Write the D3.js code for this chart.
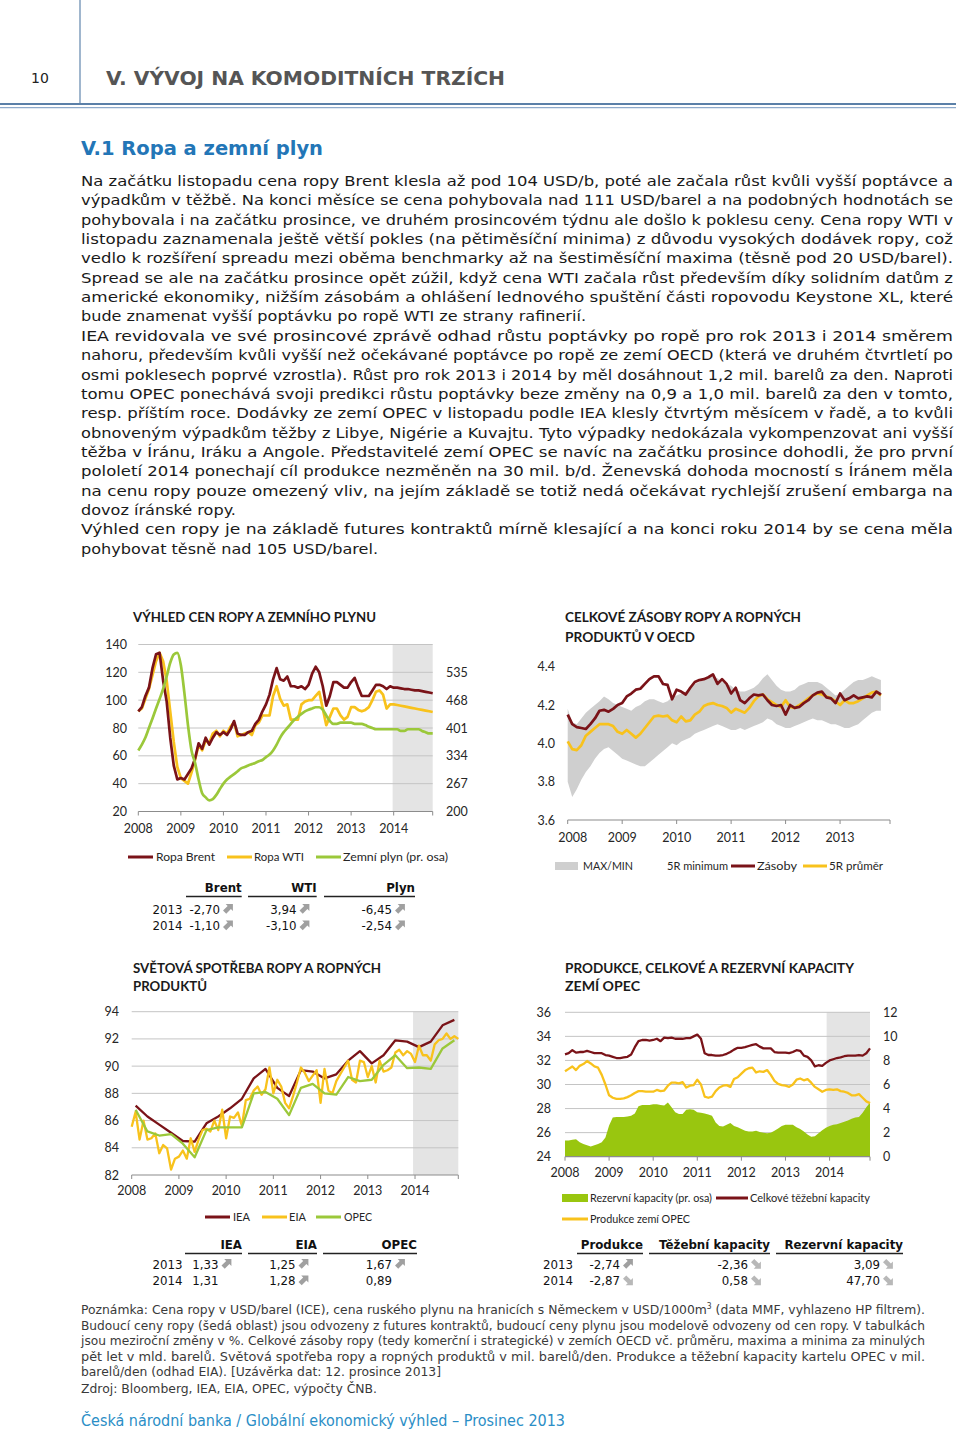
<!DOCTYPE html>
<html><head><meta charset="utf-8">
<script src="https://cdn.jsdelivr.net/npm/d3@7"></script>
<style>html,body{margin:0;padding:0;background:#fff}svg{display:block}</style>
</head><body>
<svg id="page" width="960" height="1436"></svg>
<script>
// ---------------- DATA ----------------
const years = ["2008","2009","2010","2011","2012","2013","2014"];
const years2 = ["2008","2009","2010","2011","2012","2013"];

// Chart 1: oil & gas prices (monthly 2008-01 .. 2014-12)
const brent = [92,95,103,109,123,133,134,114,99,73,53,43,
 44,43,47,51,58,69,65,73,68,73,77,75,
 77,75,79,85,76,75,75,77,78,83,86,92,
 97,104,115,123,115,114,117,110,110,109,110,108,
 111,119,124,120,110,96,103,113,113,111,109,109,
 113,116,109,103,103,103,107,111,111,110,108,110,
 109,109,108.5,108,108,107.5,107,107,106.5,106,105.5,105];
const wti = [92,94,101,108,118,128,134,128,114,92,70,52,
 44,42,40,48,57,68,64,71,69,76,78,74,
 78,76,81,84,74,75,76,77,75,82,84,89,
 89,89,103,110,101,96,97,86,86,86,97,99,
 100,100,103,106,94,82,88,94,94,89,86,88,
 95,95,93,92,93,95,100,106,107,104,94,97,
 97,96.5,96,95.5,95,94.5,94,93.5,93,92.5,92,91.5];
const gas = [347,361,378,401,424,448,471,495,525,558,578,582,
 552,485,408,347,317,277,244,234,227,230,240,254,
 267,277,284,290,297,304,307,311,314,317,321,324,
 331,337,347,361,378,391,401,411,421,428,435,441,
 445,448,451,451,445,431,418,411,411,414,414,414,
 414,411,411,411,408,404,401,398,398,398,398,398,
 398,398,394,394,398,398,398,398,394,391,388,388];
const ticksL1 = [20,40,60,80,100,120,140];
const ticksR1 = [200,267,334,401,468,535];

// Chart 2: OECD stocks (monthly 2008-01 .. 2013-10)
const zasoby = [4.15,4.10,4.085,4.08,4.075,4.10,4.13,4.17,4.175,4.165,4.18,4.20,
 4.21,4.245,4.26,4.28,4.285,4.31,4.335,4.35,4.35,4.31,4.305,4.23,
 4.28,4.27,4.255,4.29,4.32,4.33,4.335,4.345,4.36,4.31,4.335,4.31,
 4.26,4.29,4.225,4.21,4.235,4.255,4.25,4.255,4.225,4.20,4.195,4.20,
 4.15,4.20,4.185,4.19,4.21,4.225,4.25,4.265,4.27,4.24,4.235,4.21,
 4.26,4.225,4.235,4.25,4.235,4.24,4.245,4.24,4.27,4.255];
const prumer5R = [4.01,3.97,3.965,3.99,4.04,4.06,4.08,4.10,4.10,4.10,4.09,4.06,
 4.05,4.07,4.05,4.03,4.05,4.08,4.11,4.14,4.145,4.14,4.145,4.12,
 4.11,4.14,4.115,4.12,4.15,4.165,4.195,4.205,4.21,4.20,4.195,4.185,
 4.16,4.18,4.17,4.16,4.185,4.22,4.245,4.255,4.23,4.215,4.20,4.19,
 4.225,4.19,4.185,4.20,4.215,4.235,4.25,4.26,4.255,4.245,4.235,4.22,
 4.20,4.225,4.21,4.21,4.22,4.235,4.25,4.265,4.27,4.25];
const max5R = [4.18,4.11,4.10,4.13,4.16,4.18,4.20,4.22,4.245,4.23,4.21,4.20,
 4.19,4.18,4.17,4.19,4.20,4.22,4.23,4.23,4.22,4.21,4.22,4.24,
 4.25,4.26,4.27,4.29,4.31,4.32,4.33,4.34,4.35,4.34,4.32,4.31,
 4.30,4.28,4.27,4.27,4.28,4.29,4.31,4.34,4.36,4.33,4.30,4.28,
 4.27,4.27,4.28,4.30,4.31,4.32,4.32,4.32,4.31,4.29,4.27,4.25,
 4.26,4.28,4.30,4.32,4.33,4.33,4.34,4.35,4.34,4.33];
const min5R = [3.80,3.72,3.76,3.81,3.85,3.88,3.92,3.95,3.97,3.98,3.96,3.94,
 3.92,3.91,3.90,3.89,3.88,3.88,3.90,3.92,3.94,3.96,3.98,4.00,
 3.99,4.01,4.02,4.03,4.05,4.06,4.07,4.08,4.09,4.10,4.09,4.08,
 4.07,4.07,4.08,4.07,4.08,4.09,4.10,4.11,4.13,4.12,4.10,4.09,
 4.08,4.08,4.09,4.10,4.11,4.12,4.13,4.12,4.12,4.11,4.10,4.10,
 4.09,4.08,4.08,4.09,4.10,4.12,4.14,4.16,4.17,4.17];
const ticks2 = [3.6,3.8,4.0,4.2,4.4];

// Chart 3: world oil demand (IEA, OPEC quarterly; EIA monthly)
const iea = [87.1,86.3,85.7,85.1,84.5,84.45,85.8,86.3,86.9,87.6,89.1,89.8,88.4,87.8,89.7,89.6,89.1,89.4,90.4,91.1,90.2,90.8,91.9,91.8,91.4,91.8,93.0,93.4];
const opec = [86.8,85.2,84.9,85.0,84.3,83.3,85.3,85.5,85.5,85.5,88.0,88.1,87.6,86.4,88.4,88.7,88.0,87.9,89.2,88.9,89.0,90.1,90.8,89.85,89.9,89.8,91.3,91.9];
const eia = [85.55,86.65,84.6,86.0,84.6,84.7,85.05,83.6,84.2,83.95,82.4,83.2,
 83.35,83.8,83.2,84.7,83.7,84.6,85.3,85.4,85.2,86.0,85.3,86.8,
 84.7,86.3,86.2,86.6,85.6,87.5,87.6,88.2,88.5,87.9,88.3,89.9,
 88.0,89.0,88.5,87.3,86.9,87.8,88.8,89.9,89.5,88.9,89.3,89.7,
 87.3,89.8,88.2,88.0,88.9,89.4,89.9,90.4,89.0,88.8,90.4,90.3,
 89.2,90.0,88.8,90.4,89.6,89.7,89.9,91.0,91.2,90.8,91.1,90.9,
 90.3,91.5,90.8,90.8,90.4,91.6,91.9,92.0,92.4,92.0,92.2,92.0];
const ticks3 = [82,84,86,88,90,92,94];

// Chart 4: OPEC production & capacity (monthly)
const kapacity = [32.5,32.6,32.85,32.65,32.7,32.7,32.8,32.7,32.6,32.6,32.6,32.45,
 32.4,32.3,32.2,32.2,32.25,32.3,32.5,33.1,33.6,33.7,33.7,33.65,
 33.7,33.8,33.6,33.9,33.85,33.9,33.8,33.8,33.8,33.85,33.85,34.0,
 34.15,33.8,32.6,32.45,32.45,32.4,32.4,32.45,32.55,32.7,32.9,33.05,
 33.05,33.1,33.2,33.3,33.35,33.15,33.0,33.0,33.0,32.7,32.65,32.65,
 32.65,32.6,32.7,32.85,32.8,32.4,32.3,32.0,31.5,31.6,31.55,31.8,
 32.0,32.1,32.2,32.25,32.35,32.4,32.4,32.4,32.45,32.4,32.6,33.0];
const produkce = [31.1,31.3,31.5,31.2,31.55,31.7,31.95,31.75,31.5,31.4,30.8,30.0,
 29.1,28.9,28.8,28.8,28.85,28.95,29.1,29.3,29.45,29.45,29.4,29.4,
 29.4,29.55,29.45,29.5,29.9,30.15,30.15,30.1,30.2,29.75,29.9,29.95,
 30.4,30.0,29.0,28.9,29.0,29.45,29.75,29.9,29.95,29.8,30.45,30.6,
 30.9,31.2,31.35,31.4,31.0,31.1,31.05,31.2,30.8,30.3,30.05,29.95,
 29.9,29.8,30.0,30.4,30.5,30.35,30.45,30.15,29.8,29.6,29.4,29.55,
 29.6,29.55,29.6,29.45,29.4,29.3,29.1,29.1,29.2,28.9,28.6,28.45];
const rezerva = [1.35,1.35,1.4,1.45,1.2,1.05,0.95,0.85,0.95,1.05,1.2,1.6,
 2.6,3.25,3.3,3.3,3.3,3.35,3.4,3.6,4.2,4.3,4.3,4.3,
 4.35,4.35,4.3,4.25,4.5,4.1,3.7,3.55,3.55,3.9,3.95,3.9,
 3.7,3.65,3.6,3.5,3.4,2.85,2.55,2.5,2.65,2.8,2.55,2.45,
 2.3,2.15,2.1,2.1,2.15,2.05,2.0,1.95,2.0,2.15,2.35,2.55,
 2.65,2.65,2.65,2.45,2.3,2.1,1.85,1.65,1.7,1.95,2.2,2.4,
 2.55,2.65,2.7,2.8,2.9,3.0,3.15,3.25,3.3,3.65,4.1,4.5];
const ticksL4 = [24,26,28,30,32,34,36];
const ticksR4 = [0,2,4,6,8,10,12];

// Tables
const tab1Head = ["Brent","WTI","Plyn"];
const tab1Rows = [["2013","-2,70","3,94","-6,45"],["2014","-1,10","-3,10","-2,54"]];
const tab3Head = ["IEA","EIA","OPEC"];
const tab3Rows = [["2013","1,33","1,25","1,67"],["2014","1,31","1,28","0,89"]];
const tab4Head = ["Produkce","Těžební kapacity","Rezervní kapacity"];
const tab4Rows = [["2013","-2,74","-2,36","3,09"],["2014","-2,87","0,58","47,70"]];

// ---------------- DRAWING ----------------
const svg = d3.select("#page");
const F_BODY = "'DejaVu Sans', Verdana, sans-serif";
const F_CH = "Lato, 'Open Sans', sans-serif";
const F_NOTE = "'DejaVu Sans Condensed', 'DejaVu Sans', sans-serif";
const RED = "#7a1318", YEL = "#f8c21c", GRN = "#9bc83a", GRN4 = "#99c60f";

function T(g, x, y, s, o = {}) {
  const t = g.append("text").attr("x", x).attr("y", y).text(s)
    .attr("font-family", o.family || F_CH).attr("font-size", o.size || 12)
    .attr("fill", o.fill || "#262626");
  if (o.weight) t.attr("font-weight", o.weight);
  if (o.anchor) t.attr("text-anchor", o.anchor);
  if (o.len) t.attr("textLength", o.len).attr("lengthAdjust", "spacingAndGlyphs");
  return t;
}
function L(g, x1, y1, x2, y2, c, w) {
  return g.append("line").attr("x1", x1).attr("y1", y1).attr("x2", x2).attr("y2", y2)
    .attr("stroke", c).attr("stroke-width", w);
}

// Header
L(svg, 80, 0, 80, 103, "#6d8fb3", 1.3);
T(svg, 31, 83, "10", {family: F_BODY, size: 14, fill: "#222"});
T(svg, 106, 85, "V. VÝVOJ NA KOMODITNÍCH TRZÍCH", {family: F_BODY, size: 19, weight: "bold", fill: "#555", len: 399});
L(svg, 0, 104, 956, 104, "#5b80a8", 2);
L(svg, 0, 107.6, 956, 107.6, "#8eaacb", 1.3);

T(svg, 81, 155, "V.1 Ropa a zemní plyn", {family: F_BODY, size: 19, weight: "bold", fill: "#2376b7", len: 242});

const para = [
 ["Na začátku listopadu cena ropy Brent klesla až pod 104 USD/b, poté ale začala růst kvůli vyšší poptávce a", 872],
 ["výpadkům v těžbě. Na konci měsíce se cena pohybovala nad 111 USD/barel a na podobných hodnotách se", 872],
 ["pohybovala i na začátku prosince, ve druhém prosincovém týdnu ale došlo k poklesu ceny. Cena ropy WTI v", 872],
 ["listopadu zaznamenala ještě větší pokles (na pětiměsíční minima) z důvodu vysokých dodávek ropy, což", 872],
 ["vedlo k rozšíření spreadu mezi oběma benchmarky až na šestiměsíční maxima (těsně pod 20 USD/barel).", 872],
 ["Spread se ale na začátku prosince opět zúžil, když cena WTI začala růst především díky solidním datům z", 872],
 ["americké ekonomiky, nižším zásobám a ohlášení lednového spuštění části ropovodu Keystone XL, které", 872],
 ["bude znamenat vyšší poptávku po ropě WTI ze strany rafinerií.", 505],
 ["IEA revidovala ve své prosincové zprávě odhad růstu poptávky po ropě pro rok 2013 i 2014 směrem", 872],
 ["nahoru, především kvůli vyšší než očekávané poptávce po ropě ze zemí OECD (která ve druhém čtvrtletí po", 872],
 ["osmi poklesech poprvé vzrostla). Růst pro rok 2013 i 2014 by měl dosáhnout 1,2 mil. barelů za den. Naproti", 872],
 ["tomu OPEC ponechává svoji predikci růstu poptávky beze změny na 0,9 a 1,0 mil. barelů za den v tomto,", 872],
 ["resp. příštím roce. Dodávky ze zemí OPEC v listopadu podle IEA klesly čtvrtým měsícem v řadě, a to kvůli", 872],
 ["obnoveným výpadkům těžby z Libye, Nigérie a Kuvajtu. Tyto výpadky nedokázala vykompenzovat ani vyšší", 872],
 ["těžba v Íránu, Iráku a Angole. Představitelé zemí OPEC se navíc na začátku prosince dohodli, že pro první", 872],
 ["pololetí 2014 ponechají cíl produkce nezměněn na 30 mil. b/d. Ženevská dohoda mocností s Íránem měla", 872],
 ["na cenu ropy pouze omezený vliv, na jejím základě se totiž nedá očekávat rychlejší zrušení embarga na", 872],
 ["dovoz íránské ropy.", 155],
 ["Výhled cen ropy je na základě futures kontraktů mírně klesající a na konci roku 2014 by se cena měla", 872],
 ["pohybovat těsně nad 105 USD/barel.", 297]
];
para.forEach((p, i) => T(svg, 81, 186 + i * 19.35, p[0], {family: F_BODY, size: 14.6, fill: "#1a1a1a", len: p[1]}));

// generic helpers for charts
function yearAxis(g, x, yAxis, labels, yLab, tickEnd, firstShift) {
  labels.forEach((s, i) => {
    const xx = x(12 * i) + (i === 0 ? (firstShift || 0) : 0);
    T(g, xx, yLab, s, {anchor: "middle", size: 12.5});
  });
  labels.forEach((s, i) => L(g, x(12 * i), yAxis, x(12 * i), yAxis + 4, "#8c8c8c", 1));
  if (tickEnd) L(g, x.range()[1], yAxis, x.range()[1], yAxis + 4, "#8c8c8c", 1);
}
function legLine(g, x1, x2, y, c, label, lx, len) {
  L(g, x1, y, x2, y, c, 3);
  T(g, lx, y + 4, label, {size: 11.5, len: len});
}

// ---------- Chart 1 ----------
{
  const g = svg.append("g");
  T(g, 133, 622, "VÝHLED CEN ROPY A ZEMNÍHO PLYNU", {size: 14, weight: "bold", fill: "#1a1a1a", len: 243});
  const x = d3.scaleLinear().domain([0, 83]).range([138.3, 432.7]);
  const yL = d3.scaleLinear().domain([20, 140]).range([811.5, 644.5]);
  const yR = d3.scaleLinear().domain([200, 602]).range([811.5, 644.5]);
  g.append("rect").attr("x", x(71.7)).attr("y", yL(140)).attr("width", x(83) - x(71.7)).attr("height", yL(20) - yL(140)).attr("fill", "#e4e4e4");
  ticksL1.forEach(t => {
    if (t > 20) L(g, x(0), yL(t), x(83), yL(t), "#c4c4c4", 1);
    T(g, 127, yL(t) + 4.5, String(t), {anchor: "end", size: 12.5});
  });
  ticksR1.forEach(t => T(g, 446, yR(t) + 4.5, String(t), {size: 12.5}));
  L(g, x(0), yL(20), x(83), yL(20), "#8c8c8c", 1.2);
  yearAxis(g, x, yL(20), years, 833, true);
  const lineL = d3.line().x((d, i) => x(i)).y(d => yL(d)).curve(d3.curveLinear);
  const lineR = d3.line().x((d, i) => x(i)).y(d => yR(d)).curve(d3.curveMonotoneX);
  g.append("path").attr("d", lineL(wti)).attr("fill", "none").attr("stroke", YEL).attr("stroke-width", 2.7).attr("stroke-linejoin", "round");
  g.append("path").attr("d", lineL(brent)).attr("fill", "none").attr("stroke", RED).attr("stroke-width", 2.7).attr("stroke-linejoin", "round");
  g.append("path").attr("d", lineR(gas)).attr("fill", "none").attr("stroke", GRN).attr("stroke-width", 2.7).attr("stroke-linejoin", "round");
  legLine(g, 128, 153, 857, RED, "Ropa Brent", 156, 59);
  legLine(g, 227, 252, 857, YEL, "Ropa WTI", 254, 50);
  legLine(g, 316, 341, 857, GRN, "Zemní plyn (pr. osa)", 343, 105);
}

// ---------- Chart 2 ----------
{
  const g = svg.append("g");
  T(g, 565, 622, "CELKOVÉ ZÁSOBY ROPY A ROPNÝCH", {size: 14, weight: "bold", fill: "#1a1a1a", len: 236});
  T(g, 565, 642, "PRODUKTŮ V OECD", {size: 14, weight: "bold", fill: "#1a1a1a", len: 130});
  const x = d3.scaleLinear().domain([0, 71]).range([567.7, 890]);
  const y = d3.scaleLinear().domain([3.6, 4.4]).range([820, 666.7]);
  const area = d3.area().x((d, i) => x(i)).y0((d, i) => y(min5R[i])).y1(d => y(d));
  g.append("path").attr("d", area(max5R)).attr("fill", "#cfcfcf");
  ticks2.forEach(t => T(g, 555, y(t) + 4.5, t.toFixed(1), {anchor: "end", size: 12.5}));
  L(g, x(0), y(3.6), x(71), y(3.6), "#8c8c8c", 1.2);
  yearAxis(g, x, y(3.6), years2, 842, true, 5);
  const line = d3.line().x((d, i) => x(i)).y(d => y(d));
  g.append("path").attr("d", line(prumer5R)).attr("fill", "none").attr("stroke", YEL).attr("stroke-width", 2.7).attr("stroke-linejoin", "round");
  g.append("path").attr("d", line(zasoby)).attr("fill", "none").attr("stroke", RED).attr("stroke-width", 2.7).attr("stroke-linejoin", "round");
  g.append("rect").attr("x", 555).attr("y", 862).attr("width", 23).attr("height", 8).attr("fill", "#cfcfcf");
  T(g, 583, 870, "MAX/MIN", {size: 11.5, len: 50});
  T(g, 667, 870, "5R minimum", {size: 11.5, len: 61});
  legLine(g, 731, 755, 866, RED, "Zásoby", 757, 40);
  legLine(g, 803, 827, 866, YEL, "5R průměr", 829, 54);
}

// ---------- Tables ----------
function arrowNE(g, x, y, c) {
  g.append("path").attr("transform", `translate(${x},${y}) scale(0.9)`)
    .attr("d", "M11,0 L11,8 L8.8,5.8 L3.6,11 L0,7.4 L5.2,2.2 L3,0 Z").attr("fill", c || "#a0a0a0");
}
function arrowSE(g, x, y, c) {
  g.append("path").attr("transform", `translate(${x},${y}) scale(0.9)`)
    .attr("d", "M11,11 L11,3 L8.8,5.2 L3.6,0 L0,3.6 L5.2,8.8 L3,11 Z").attr("fill", c || "#b8b8b8");
}
function table(g, head, rows, cfg) {
  head.forEach((h, i) => {
    T(g, cfg.headR[i], cfg.yH, h, {family: F_BODY, size: 11.8, weight: "bold", anchor: "end", fill: "#111"});
    L(g, cfg.lineX[i][0], cfg.yH + 4.5, cfg.lineX[i][1], cfg.yH + 4.5, "#222", 1.6);
  });
  rows.forEach((r, j) => {
    const yy = cfg.yR[j];
    T(g, cfg.yearX, yy, r[0], {family: F_BODY, size: 11.8, fill: "#111"});
    for (let i = 1; i < r.length; i++) {
      T(g, cfg.valR[i - 1], yy, r[i], {family: F_BODY, size: 11.8, anchor: "end", fill: "#111"});
      const a = cfg.arrows[j][i - 1];
      if (a === "ne") arrowNE(g, cfg.valR[i - 1] + 3, yy - 9.6);
      if (a === "se") arrowSE(g, cfg.valR[i - 1] + 3, yy - 9.6);
    }
  });
}
table(svg.append("g"), tab1Head, tab1Rows, {
  headR: [241.7, 316.7, 415], yH: 892, lineX: [[186, 241.7], [248, 316.7], [324, 415]],
  yearX: 152.5, yR: [913.5, 930], valR: [220, 296.5, 392],
  arrows: [["ne", "ne", "ne"], ["ne", "ne", "ne"]]
});
table(svg.append("g"), tab3Head, tab3Rows, {
  headR: [242, 317, 417], yH: 1249, lineX: [[185, 242], [248, 317], [323, 417]],
  yearX: 152.5, yR: [1268.5, 1285], valR: [218.5, 295.5, 392],
  arrows: [["ne", "ne", "ne"], ["", "ne", ""]]
});
table(svg.append("g"), tab4Head, tab4Rows, {
  headR: [643, 770, 903], yH: 1249, lineX: [[577, 643], [649, 770], [776, 903]],
  yearX: 543, yR: [1268.5, 1285], valR: [620, 748, 880],
  arrows: [["ne", "se", "se"], ["se", "se", "se"]]
});

// ---------- Chart 3 ----------
{
  const g = svg.append("g");
  T(g, 133, 973, "SVĚTOVÁ SPOTŘEBA ROPY A ROPNÝCH", {size: 14, weight: "bold", fill: "#1a1a1a", len: 248});
  T(g, 133, 991, "PRODUKTŮ", {size: 14, weight: "bold", fill: "#1a1a1a", len: 74});
  const x = d3.scaleLinear().domain([0, 83]).range([131.7, 458.3]);
  const y = d3.scaleLinear().domain([82, 94]).range([1175, 1011.7]);
  g.append("rect").attr("x", x(71.5)).attr("y", y(94)).attr("width", x(83) - x(71.5)).attr("height", y(82) - y(94)).attr("fill", "#e4e4e4");
  ticks3.forEach(t => {
    if (t > 82) L(g, x(0), y(t), x(83), y(t), "#c4c4c4", 1);
    T(g, 119, y(t) + 4.5, String(t), {anchor: "end", size: 12.5});
  });
  L(g, x(0), y(82), x(83), y(82), "#8c8c8c", 1.2);
  yearAxis(g, x, y(82), years, 1195, true);
  const lineM = d3.line().x((d, i) => x(i)).y(d => y(d));
  const lineQ = d3.line().x((d, i) => x(1 + 3 * i)).y(d => y(d));
  g.append("path").attr("d", lineQ(iea)).attr("fill", "none").attr("stroke", RED).attr("stroke-width", 2.3).attr("stroke-linejoin", "round");
  g.append("path").attr("d", lineM(eia)).attr("fill", "none").attr("stroke", YEL).attr("stroke-width", 2.3).attr("stroke-linejoin", "round");
  g.append("path").attr("d", lineQ(opec)).attr("fill", "none").attr("stroke", GRN).attr("stroke-width", 2.3).attr("stroke-linejoin", "round");
  legLine(g, 205, 230, 1217, RED, "IEA", 233, 17);
  legLine(g, 262, 287, 1217, YEL, "EIA", 289, 17);
  legLine(g, 316, 341, 1217, GRN, "OPEC", 344, 28);
}

// ---------- Chart 4 ----------
{
  const g = svg.append("g");
  T(g, 565, 973, "PRODUKCE, CELKOVÉ A REZERVNÍ KAPACITY", {size: 14, weight: "bold", fill: "#1a1a1a", len: 289});
  T(g, 565, 991, "ZEMÍ OPEC", {size: 14, weight: "bold", fill: "#1a1a1a", len: 75});
  const x = d3.scaleLinear().domain([0, 83]).range([565, 870]);
  const yL = d3.scaleLinear().domain([24, 36]).range([1156.7, 1012.3]);
  const yR = d3.scaleLinear().domain([0, 12]).range([1156.7, 1012.3]);
  g.append("rect").attr("x", x(71.2)).attr("y", yL(36)).attr("width", x(83) - x(71.2)).attr("height", yL(24) - yL(36)).attr("fill", "#e4e4e4");
  ticksL4.forEach(t => {
    if (t > 24) L(g, x(0), yL(t), x(83), yL(t), "#c4c4c4", 1);
    T(g, 551, yL(t) + 4.5, String(t), {anchor: "end", size: 12.5});
  });
  ticksR4.forEach(t => T(g, 883, yR(t) + 4.5, String(t), {size: 12.5}));
  const area = d3.area().x((d, i) => x(i)).y0(yR(0)).y1(d => yR(d));
  g.append("path").attr("d", area(rezerva)).attr("fill", GRN4);
  L(g, x(0), yL(24), x(83), yL(24), "#8c8c8c", 1.2);
  yearAxis(g, x, yL(24), years, 1177, true);
  const line = d3.line().x((d, i) => x(i)).y(d => yL(d));
  g.append("path").attr("d", line(produkce)).attr("fill", "none").attr("stroke", YEL).attr("stroke-width", 2.3).attr("stroke-linejoin", "round");
  g.append("path").attr("d", line(kapacity)).attr("fill", "none").attr("stroke", RED).attr("stroke-width", 2.3).attr("stroke-linejoin", "round");
  g.append("rect").attr("x", 562).attr("y", 1194).attr("width", 26).attr("height", 8).attr("fill", GRN4);
  T(g, 590, 1202, "Rezervní kapacity (pr. osa)", {size: 11.5, len: 122});
  legLine(g, 716, 748, 1198, RED, "Celkové těžební kapacity", 750, 120);
  legLine(g, 562, 588, 1219, YEL, "Produkce zemí OPEC", 590, 100);
}

// ---------- Footnote ----------
{
  const g = svg.append("g");
  const o = {family: F_NOTE, size: 13, fill: "#3a3a3a"};
  const t1 = T(g, 81, 1314, "", Object.assign({}, o));
  t1.append("tspan").text("Poznámka: Cena ropy v USD/barel (ICE), cena ruského plynu na hranicích s Německem v USD/1000m");
  t1.append("tspan").attr("dy", -5).attr("font-size", 8).text("3");
  t1.append("tspan").attr("dy", 5).text(" (data MMF, vyhlazeno HP filtrem).");
  t1.attr("textLength", 844).attr("lengthAdjust", "spacingAndGlyphs");
  const lines = [
   ["Budoucí ceny ropy (šedá oblast) jsou odvozeny z futures kontraktů, budoucí ceny plynu jsou modelově odvozeny od cen ropy. V tabulkách", 844],
   ["jsou meziroční změny v %. Celkové zásoby ropy (tedy komerční i strategické) v zemích OECD vč. průměru, maxima a minima za minulých", 844],
   ["pět let v mld. barelů. Světová spotřeba ropy a ropných produktů v mil. barelů/den. Produkce a těžební kapacity kartelu OPEC v mil.", 844],
   ["barelů/den (odhad EIA). [Uzávěrka dat: 12. prosince 2013]", 360],
   ["Zdroj: Bloomberg, IEA, EIA, OPEC, výpočty ČNB.", 296]
  ];
  lines.forEach((l, i) => T(g, 81, 1329.5 + i * 15.5 + (i === 4 ? 1.5 : 0), l[0], Object.assign({}, o, {len: l[1]})));
  T(g, 81, 1426, "Česká národní banka / Globální ekonomický výhled – Prosinec 2013", {family: F_NOTE, size: 15.5, fill: "#2b8ec6", len: 484});
}
</script>
</body></html>
